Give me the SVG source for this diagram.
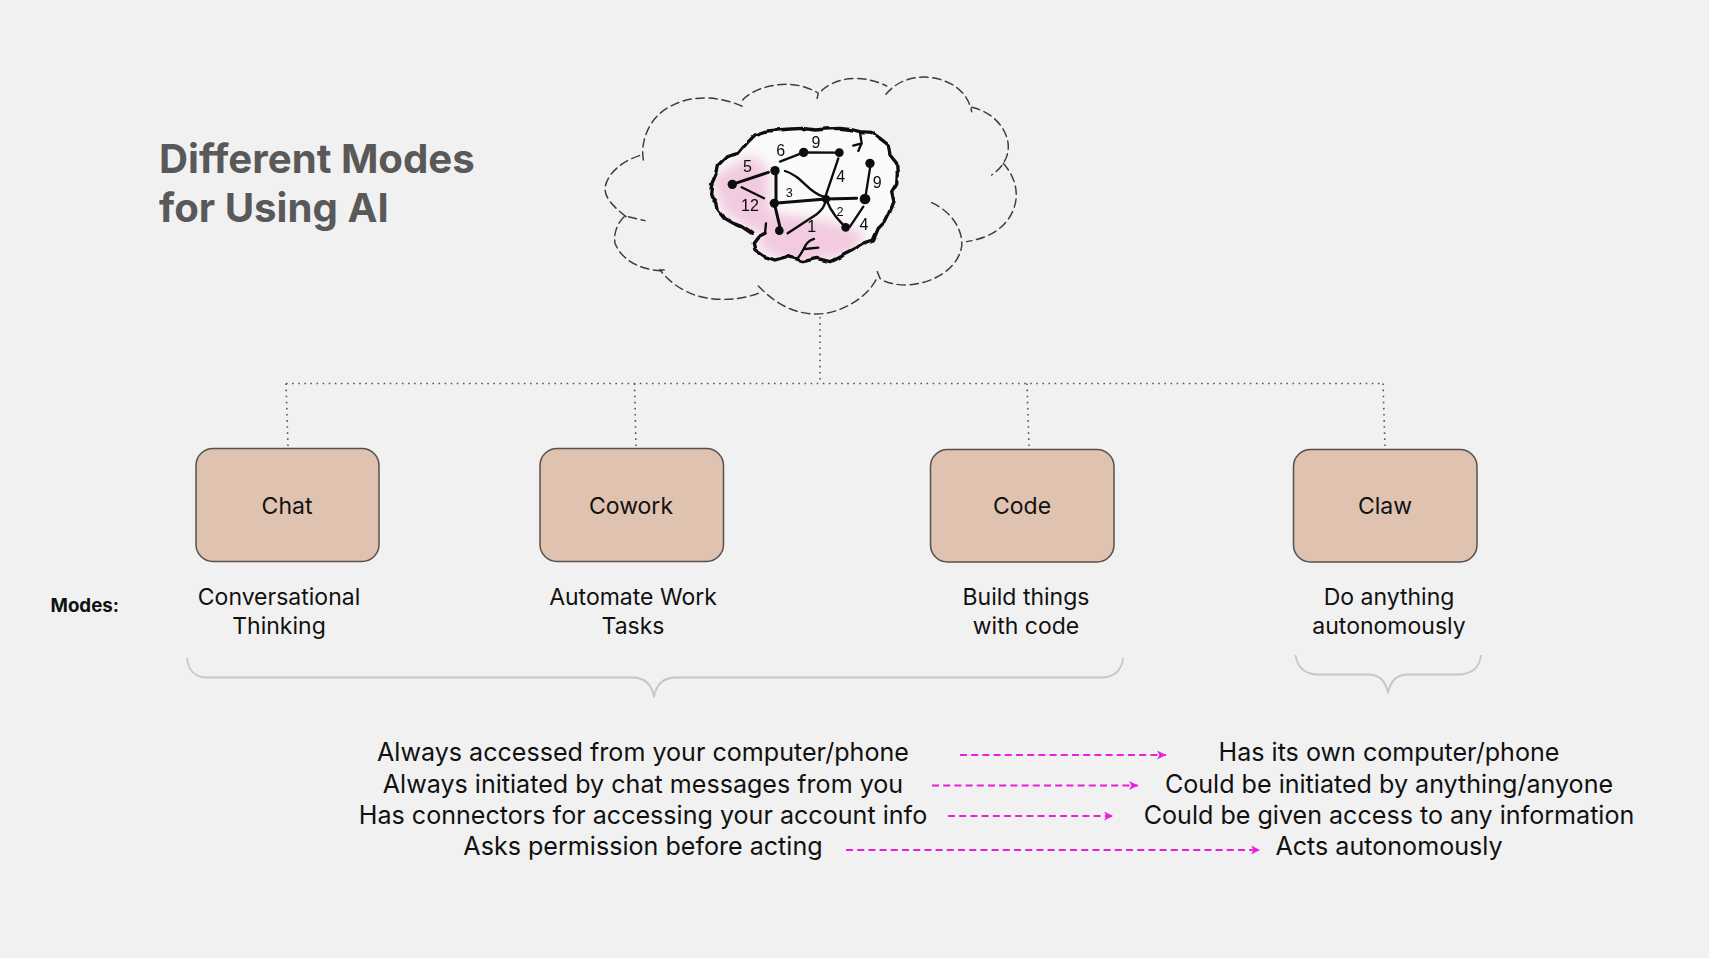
<svg xmlns="http://www.w3.org/2000/svg" width="1709" height="958" viewBox="0 0 1709 958">
<style>
text{font-family:Inter,"Liberation Sans",sans-serif;fill:#111}
.title{font-size:40.2px;font-weight:700;fill:#595959}
.box{fill:#dfc3b0;stroke:#57514d;stroke-width:1.5}
.lab{font-size:23px;text-anchor:middle}
.row{font-size:25.1px;text-anchor:middle}
.dot{fill:none;stroke:#555;stroke-width:1.6;stroke-dasharray:1.6 4.5}
.brace{fill:none;stroke:#c6c6c4;stroke-width:1.8}
.arr{fill:none;stroke:#ea1fdc;stroke-width:2;stroke-dasharray:7 4.2;marker-end:url(#ah)}
.cl{fill:none;stroke:#3c3c3c;stroke-width:4.4;stroke-dasharray:25 14;stroke-linecap:round}
.e{fill:none;stroke:#0c0c0c;stroke-width:7;stroke-linecap:round}
.t{stroke-width:9}
.n{fill:#0c0c0c}
.hw{font-size:48px;font-weight:400;text-anchor:middle;font-family:"Liberation Sans",sans-serif;fill:#0c0c0c}
</style>
<defs>
<marker id="ah" markerUnits="userSpaceOnUse" markerWidth="11" markerHeight="11" refX="9" refY="4.500" orient="auto"><path d="M0 0L9 4.500L0 9L2.500 4.500Z" fill="#ea1fdc"/></marker>
<filter id="blur" x="-30%" y="-30%" width="160%" height="160%"><feGaussianBlur stdDeviation="16"/></filter>
<filter id="soft" x="-5%" y="-5%" width="110%" height="110%"><feGaussianBlur stdDeviation="1.200"/></filter>
<filter id="wob" x="-5%" y="-5%" width="110%" height="110%"><feTurbulence type="fractalNoise" baseFrequency=".028" numOctaves="1" seed="4"/><feDisplacementMap in="SourceGraphic" scale="14" xChannelSelector="R" yChannelSelector="G"/></filter>
<clipPath id="bc"><path d="M195 60L230 48L265 45L300 42L340 40L375 45L410 42L450 40L490 45L510 50L545 52L570 70L595 90L600 120L620 145L622 175L620 205L605 230L612 260L600 290L585 320L565 340L550 375L520 385L490 405L450 425L420 440L380 430L340 440L320 432L290 425L255 435L225 425L195 405L190 385L205 365L225 355L185 355L155 335L130 325L105 310L85 285L80 260L62 240L65 210L80 175L85 150L110 125L145 115L170 85Z"/></clipPath>
</defs>
<rect width="1709" height="958" fill="#f1f1f1"/>
<g id="title"><text class="title" x="159" y="173">Different Modes</text><text class="title" x="159" y="222">for Using AI</text></g>
<g id="cloud" transform="translate(590 60) scale(.3333)">
<path class="cl" d="M160 300C150 240 180 170 240 140C310 100 400 110 465 143"/>
<path class="cl" d="M458 120C490 85 570 60 640 80C665 88 680 95 685 100L680 120"/>
<path class="cl" d="M695 92C730 60 800 35 890 78"/>
<path class="cl" d="M888 103C930 50 1010 35 1080 70C1120 90 1140 125 1145 155"/>
<path class="cl" d="M1145 142C1210 155 1255 210 1255 260C1255 295 1235 325 1205 345"/>
<path class="cl" d="M1240 310C1275 350 1290 400 1270 450C1245 510 1190 535 1130 545"/>
<path class="cl" d="M1025 428C1085 455 1120 510 1115 560C1105 620 1040 670 950 675C910 675 880 665 870 655L862 635"/>
<path class="cl" d="M858 660C825 720 745 762 680 762C610 762 555 730 505 678"/>
<path class="cl" d="M505 700C440 725 350 725 290 695C250 675 225 650 210 630L232 630"/>
<path class="cl" d="M215 632C150 630 95 600 75 550C70 515 85 485 105 468L165 482"/>
<path class="cl" d="M108 470C70 440 45 415 45 385C50 340 100 300 155 285"/>
</g>
<g id="brain" transform="translate(690 115) scale(.3333)" filter="url(#soft)">
<rect x="40" y="20" width="600" height="440" fill="#fafafa" clip-path="url(#bc)"/>
<g clip-path="url(#bc)"><g filter="url(#blur)" fill="#f2cbe0"><path d="M60 190L180 120L235 160L240 350L190 350L100 290Z"/><path d="M200 395L245 290L420 320L530 355L480 420L300 450Z"/></g></g>
<path filter="url(#wob)" fill="none" stroke="#0c0c0c" stroke-width="10" stroke-linejoin="round" stroke-linecap="round" d="M195 60L230 48L265 45L300 42L340 40L375 45L410 42L450 40L490 45L510 50L545 52L570 70L595 90L600 120L620 145L622 175L620 205L605 230L612 260L600 290L585 320L565 340L550 375L520 385L490 405L450 425L420 440L380 430L340 440L320 432L290 425L255 435L225 425L195 405L190 385L205 365L225 355M185 355L155 335L130 325L105 310L85 285L80 260L62 240L65 210L80 175L85 150L110 125L145 115L170 85L195 60"/>
<path class="e" d="M228 325L225 356M510 52L515 85L490 92M515 85L505 108M320 432C345 410 340 380 372 372M345 402L385 398"/>
<path class="e t" d="M127 208L235 172M253 265L408 252M253 265L272 345M408 252L500 250M258 170L258 260"/>
<path class="e" d="M155 217L222 250M293 355L380 298C395 285 405 275 408 252M270 140L341 112L448 113M445 130L408 240M285 168C340 185 350 230 400 245M408 252C425 295 445 315 467 337M480 335L520 275M528 235L540 160"/>
<circle class="n" cx="127" cy="208" r="14"/><circle class="n" cx="255" cy="167" r="14"/><circle class="n" cx="253" cy="265" r="14"/><circle class="n" cx="268" cy="347" r="13"/><circle class="n" cx="341" cy="112" r="14"/><circle class="n" cx="448" cy="113" r="13"/><circle class="n" cx="408" cy="252" r="12"/><circle class="n" cx="525" cy="252" r="16"/><circle class="n" cx="467" cy="337" r="13"/><circle class="n" cx="540" cy="145" r="14"/>
<text class="hw" x="172" y="172">5</text><text class="hw" x="272" y="124">6</text><text class="hw" x="378" y="98">9</text><text class="hw" x="452" y="202">4</text><text class="hw" x="562" y="220">9</text><text class="hw" x="298" y="246" style="font-size:38px">3</text><text class="hw" x="180" y="288">12</text><text class="hw" x="365" y="350">1</text><text class="hw" x="450" y="302" style="font-size:38px">2</text><text class="hw" x="522" y="345">4</text>
</g>
<g id="connectors">
<path class="dot" d="M820 317V383"/>
<path class="dot" d="M286 383.500H1383"/>
<path class="dot" d="M286 383.500L288 446"/>
<path class="dot" d="M634.500 383.500L636 446"/>
<path class="dot" d="M1027 383.500L1029 446"/>
<path class="dot" d="M1383 383.500L1385 446"/>
<path class="arr" d="M960 755H1166"/>
<path class="arr" d="M932 785.500H1138"/>
<path class="arr" d="M948 816H1113"/>
<path class="arr" d="M846 850H1260"/>
</g>
<g id="chat"><rect class="box" x="196" y="448.500" width="183" height="113" rx="17"/><text class="lab" x="287" y="513.500">Chat</text></g>
<g id="cowork"><rect class="box" x="540" y="448.500" width="183.500" height="113" rx="17"/><text class="lab" x="631" y="513.500">Cowork</text></g>
<g id="code"><rect class="box" x="930.500" y="449.500" width="183.500" height="112.500" rx="17"/><text class="lab" x="1022" y="514">Code</text></g>
<g id="claw"><rect class="box" x="1293.500" y="449.500" width="183.500" height="112.500" rx="17"/><text class="lab" x="1385" y="514">Claw</text></g>
<g id="modes">
<text x="50.500" y="612" font-size="18.700" font-weight="700">Modes:</text>
<text class="lab" x="279" y="605">Conversational</text><text class="lab" x="279" y="634">Thinking</text>
<text class="lab" x="633" y="605">Automate Work</text><text class="lab" x="633" y="634">Tasks</text>
<text class="lab" x="1026" y="605">Build things</text><text class="lab" x="1026" y="634">with code</text>
<text class="lab" x="1389" y="605">Do anything</text><text class="lab" x="1389" y="634">autonomously</text>
</g>
<g id="braces">
<path class="brace" d="M187 658C188 670 195 677.500 208 677.500H632C645 677.500 652 685 654 697C656 685 663 677.500 676 677.500H1102C1114 677.500 1122 670 1123 658"/>
<path class="brace" d="M1295.500 655C1297 667 1305 674.500 1318 674.500H1368C1380 674.500 1386 682 1388 693C1390 682 1396 674.500 1408 674.500H1458C1472 674.500 1480 667 1481 655"/>
</g>
<g id="compare">
<text class="row" x="643" y="761">Always accessed from your computer/phone</text>
<text class="row" x="643" y="792.500">Always initiated by chat messages from you</text>
<text class="row" x="643" y="824">Has connectors for accessing your account info</text>
<text class="row" x="643" y="855">Asks permission before acting</text>
<text class="row" x="1389" y="761">Has its own computer/phone</text>
<text class="row" x="1389" y="792.500">Could be initiated by anything/anyone</text>
<text class="row" x="1389" y="824">Could be given access to any information</text>
<text class="row" x="1389" y="855">Acts autonomously</text>
</g>
</svg>
